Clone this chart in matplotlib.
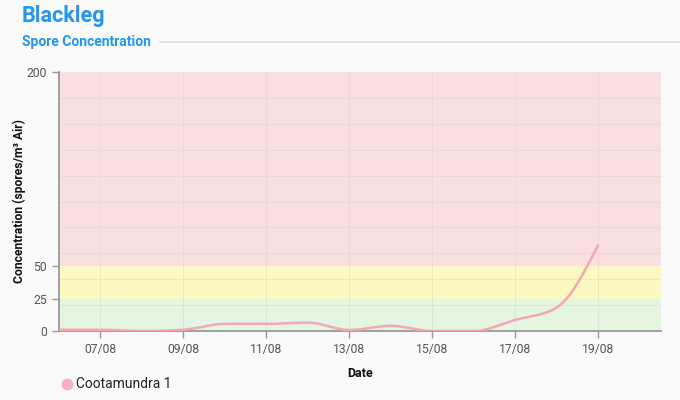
import numpy as np
import pandas as pd
import matplotlib
matplotlib.use("Agg")
import matplotlib.pyplot as plt
import matplotlib.dates as mdates

plt.rcParams['font.family'] = ['Roboto', 'DejaVu Sans']

# Data
dates = pd.date_range("2023-08-06", "2023-08-19", freq="D")
spores = [1, 1, 0, 1, 5.5, 5.5, 6.5, 0.8, 4, 0, 0, 8.5, 18, 66]
series_name = "Cootamundra 1"

# risk bands (low, high, colour)
band_edges = [0, 25, 50, 200]
band_colors = ["#e4f5e0", "#fcf9c0", "#f9dfe0"]
y_ticks = [0, 25, 50, 200]
x_ticks = pd.date_range("2023-08-07", "2023-08-19", freq="2D")


def monotone_curve(x, y, n=30):
    # monotone cubic (like d3 curveMonotoneX) for the smooth line
    x = np.asarray(x, float)
    y = np.asarray(y, float)
    h = np.diff(x)
    s = np.diff(y) / h
    m = np.zeros(len(x))
    for i in range(1, len(x) - 1):
        p = (s[i - 1] * h[i] + s[i] * h[i - 1]) / (h[i - 1] + h[i])
        m[i] = (np.sign(s[i - 1]) + np.sign(s[i])) * min(abs(s[i - 1]), abs(s[i]), 0.5 * abs(p))
    m[0] = (3 * s[0] - m[1]) / 2
    m[-1] = (3 * s[-1] - m[-2]) / 2
    xs, ys = [], []
    for i in range(len(x) - 1):
        t = np.linspace(0, 1, n)
        h00 = 2 * t**3 - 3 * t**2 + 1
        h10 = t**3 - 2 * t**2 + t
        h01 = -2 * t**3 + 3 * t**2
        h11 = t**3 - t**2
        xs.append(x[i] + t * h[i])
        ys.append(h00 * y[i] + h10 * h[i] * m[i] + h01 * y[i + 1] + h11 * h[i] * m[i + 1])
    return np.concatenate(xs), np.concatenate(ys)


fig = plt.figure(figsize=(6.8, 4.0), dpi=100, facecolor="#fafafa")
ax = fig.add_axes([59 / 680, 1 - 331 / 400, 602 / 680, 259 / 400])
ax.set_facecolor("#fafafa")

# background bands
for lo, hi, c in zip(band_edges[:-1], band_edges[1:], band_colors):
    ax.axhspan(lo, hi, color=c, zorder=0, lw=0)

# grid
for yv in range(20, 200, 20):
    ax.axhline(yv, color="#d8d0d0", lw=0.6, alpha=0.5, zorder=1)
for xv in x_ticks:
    ax.axvline(xv, color="#d8d0d0", lw=0.6, alpha=0.5, zorder=1)

# line
xn = mdates.date2num(dates)
cx, cy = monotone_curve(xn, spores)
ax.plot(cx, cy, color="#f5a8b4", lw=1.8, zorder=3, solid_capstyle="round")

ax.set_xlim(mdates.date2num(pd.Timestamp("2023-08-06")), mdates.date2num(pd.Timestamp("2023-08-20 12:30")))
ax.set_ylim(0, 200)
ax.set_yticks(y_ticks)
ax.set_xticks(x_ticks)
ax.xaxis.set_major_formatter(mdates.DateFormatter("%d/%m"))

for sp in ["top", "right"]:
    ax.spines[sp].set_visible(False)
for sp in ["left", "bottom"]:
    ax.spines[sp].set_color("#999999")
    ax.spines[sp].set_linewidth(1.3)
ax.tick_params(colors="#999999", labelcolor="#555555", labelsize=8.7, length=5, width=1)

ax.set_xlabel("Date", fontsize=9, fontweight="bold", color="#111111", labelpad=8)
ax.set_ylabel("Concentration (spores/m³ Air)", fontsize=8.7, fontweight="bold", color="#111111")
ax.yaxis.set_label_coords(-0.055, 0.5)

# titles
fig.text(22 / 680, 1 - 16 / 400, "Blackleg", fontsize=15.5, fontweight="bold", color="#2196f3", va="center")
fig.text(22 / 680, 1 - 42 / 400, "Spore Concentration", fontsize=10, fontweight="bold", color="#2196f3", va="center")
fig.add_artist(plt.Line2D([160 / 680, 1], [1 - 42 / 400, 1 - 42 / 400], color="#dddddd", lw=1.2))

# legend
fig.add_artist(plt.Line2D([67 / 680], [1 - 384 / 400], marker="o", markersize=7.5, color="#f7b0bd", lw=0))
fig.text(76 / 680, 1 - 384 / 400, series_name, fontsize=10, color="#222222", va="center")

fig.savefig("out.png", dpi=100, facecolor=fig.get_facecolor())
